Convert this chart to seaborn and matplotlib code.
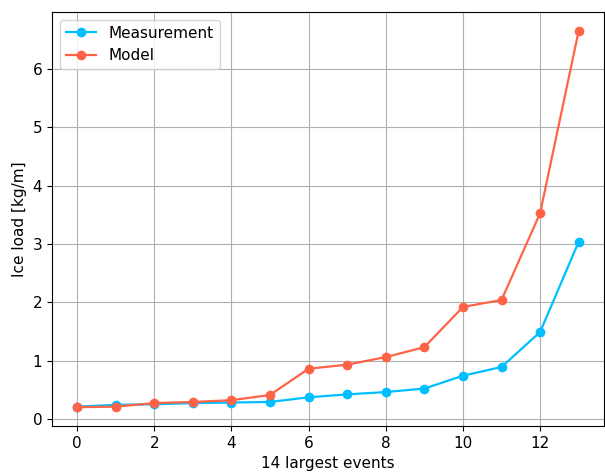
import pandas as pd
import matplotlib
matplotlib.use('Agg')
import matplotlib.pyplot as plt
import seaborn as sns

# 14 largest icing events
events = list(range(14))
measurement = [0.21, 0.24, 0.25, 0.27, 0.28, 0.29, 0.37, 0.42, 0.46, 0.52, 0.74, 0.89, 1.49, 3.04]
model = [0.20, 0.21, 0.27, 0.29, 0.32, 0.41, 0.86, 0.93, 1.06, 1.23, 1.92, 2.04, 3.53, 6.66]

df = pd.DataFrame({
    'event': events * 2,
    'load': measurement + model,
    'series': ['Measurement'] * len(events) + ['Model'] * len(events),
})

plt.rcParams['font.size'] = 11

fig, ax = plt.subplots(figsize=(6.05, 4.76), dpi=100)
sns.lineplot(data=df, x='event', y='load', hue='series',
             hue_order=['Measurement', 'Model'],
             palette={'Measurement': 'deepskyblue', 'Model': 'tomato'},
             marker='o', markersize=7, markeredgewidth=0, linewidth=1.6, ax=ax)

ax.grid(True, color='#b0b0b0', linewidth=0.8)
ax.set_xticks(range(0, 13, 2))
ax.set_xlabel('14 largest events')
ax.set_ylabel('Ice load [kg/m]')
ax.legend(loc='upper left')

plt.subplots_adjust(left=0.086, right=0.998, top=0.975, bottom=0.105)
plt.savefig('out.png')
